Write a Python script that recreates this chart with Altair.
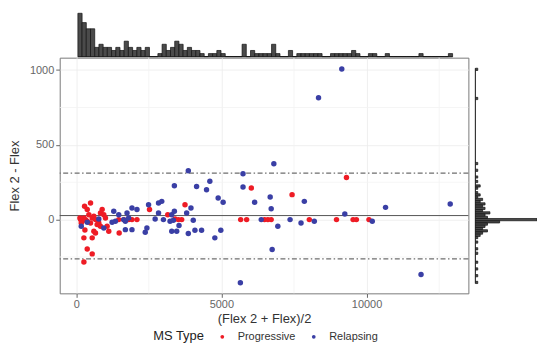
import altair as alt
import pandas as pd

# ---- scatter data ----
prog_x = [288, 494, 380, 437, 151, 208, 265, 322, 380, 551, 608, 665, 836, 894, 951,
          1008, 779, 836, 608, 665, 551, 265, 1122, 1480, 1465, 1636, 1807, 1921, 2093, 380,
          551, 265, 128, 174, 494, 722, 1065, 2525, 3747, 3153, 3404, 3518, 3633, 6031, 5664,
          5870, 7435, 6487, 6601, 6715, 8029, 8965, 9308, 9536, 9650, 10083, 300]
prog_y = [89, 111, 67, 33, 0, -11, 11, 0, -11, 11, 22, 0, 44, 67, 33,
          11, -22, -44, -78, -89, -122, -122, -78, -89, 0, 0, 0, 0, 0, -196,
          -229, -284, 11, -22, -22, -33, -44, 67, 100, 33, 4, 0, 0, 211, 0,
          0, 167, 0, 0, 0, 0, 0, 282, 0, 0, 0, -70]
rel_x = [174, 380, 779, 1293, 1350, 1465, 1636, 1693, 1750, 1807, 1921, 2093, 2492, 2435, 2378,
         1693, 1921, 951, 1236, 2835, 2835, 3861, 5745, 3381, 4603, 4489, 4146, 2947, 4889, 5060,
         5745, 6145, 2719, 3004, 3290, 3381, 3233, 3804, 3952, 4032, 3290, 3461, 3541, 3861, 4089,
         4318, 4775, 4980, 3347, 6807, 6681, 6715, 7857, 6373, 6944, 6749, 7366, 7743, 8200, 9251,
         10197, 10654, 12881, 11876, 9147, 8346, 5654]
rel_y = [-44, -18, 4, 56, -11, 33, 0, -11, 44, 11, 78, 67, 100, -56, -84,
         -67, -67, -56, -18, 111, 44, 327, 307, 227, 256, 200, 222, 122, 144, 116,
         218, 116, 4, 0, 33, 56, -11, 44, 78, -4, -78, -78, -40, -93, -71,
         -71, -122, -71, -4, 373, 151, 73, 122, 0, -44, -200, 0, -22, -11, 38,
         -11, 82, 104, -367, 1007, 815, -422]

# ---- marginal histogram of (Flex 2 + Flex)/2 ----
XBIN0, XBINW = 58, 145
xhist_counts = [14, 11, 9, 9, 3, 4, 3, 3, 2, 3, 2, 5, 3, 2, 3, 2, 3, 0, 0, 1,
                4, 2, 3, 5, 4, 2, 3, 2, 2, 1, 0, 1, 1, 2, 1, 0, 0, 0, 0, 4,
                0, 2, 1, 1, 1, 1, 4, 1, 0, 0, 2, 0, 1, 1, 1, 1, 1, 1, 0, 0,
                1, 1, 1, 1, 1, 2, 1, 0, 0, 1, 1, 0, 0, 1, 0, 0, 0, 0, 0, 0,
                0, 1, 0, 0, 0, 0, 0, 0, 1]

# ---- marginal histogram of Flex 2 - Flex ----
YBINW = 15
ybin_center = [1005, 810, 375, 330, 285, 255, 225, 210, 180, 165, 150, 135, 120, 105, 90, 75,
               60, 45, 30, 15, 0, -15, -30, -45, -60, -75, -90, -105, -120, -150, -195,
               -225, -285, -330, -375, -420]
ybin_count = [1, 1, 1, 1, 1, 1, 2, 1, 1, 2, 1, 3, 2, 4, 3, 4,
              3, 6, 4, 5, 32, 10, 5, 4, 3, 5, 3, 2, 1, 1, 1,
              1, 1, 1, 1, 1]

MEAN, UPPER, LOWER = 27, 311, -262
X_TICKS = [0, 5000, 10000]
Y_TICKS = [0, 500, 1000]
X_MINOR = [2500, 7500, 12500]
Y_MINOR = [-250, 250, 750]

X_DOM = [-568, 13507]
Y_DOM = [-493, 1083]
RED, BLUE = "#EE1C25", "#3A3FA5"
FONT = "Liberation Sans"

W, H = 411, 237
TOP_H, RIGHT_W = 48, 62

pts = pd.DataFrame({
    "avg": prog_x + rel_x,
    "diff": prog_y + rel_y,
    "MS Type": ["Progressive"] * len(prog_x) + ["Relapsing"] * len(rel_x),
})

xs = alt.Scale(domain=X_DOM, nice=False, zero=False)
ys = alt.Scale(domain=Y_DOM, nice=False, zero=False)

x_axis = alt.Axis(values=X_TICKS, title="(Flex 2 + Flex)/2", format="d", grid=True,
                  gridColor="#ebebeb", gridWidth=0.8, domain=False, tickColor="#666",
                  tickSize=4, labelColor="#666666", labelFontSize=11, labelPadding=1,
                  titleFontSize=13, titleFontWeight="normal", titleColor="#333333", titlePadding=3)
y_axis = alt.Axis(values=Y_TICKS, title="Flex 2 - Flex", format="d", grid=True,
                  gridColor="#ebebeb", gridWidth=0.8, domain=False, tickColor="#666",
                  tickSize=4, labelColor="#666666", labelFontSize=11, labelPadding=2,
                  titleFontSize=13, titleFontWeight="normal", titleColor="#333333", titlePadding=8)

minor_x = alt.Chart(pd.DataFrame({"v": X_MINOR})).mark_rule(color="#f3f3f3", strokeWidth=0.8).encode(
    x=alt.X("v:Q", scale=xs, axis=x_axis))
minor_y = alt.Chart(pd.DataFrame({"v": Y_MINOR})).mark_rule(color="#f3f3f3", strokeWidth=0.8).encode(
    y=alt.Y("v:Q", scale=ys, axis=y_axis))

points = alt.Chart(pts).mark_circle(size=30, opacity=1).encode(
    x=alt.X("avg:Q", scale=xs, axis=x_axis),
    y=alt.Y("diff:Q", scale=ys, axis=y_axis),
    color=alt.Color("MS Type:N",
                    scale=alt.Scale(domain=["Progressive", "Relapsing"], range=[RED, BLUE]),
                    legend=alt.Legend(orient="none", legendX=94, legendY=324, direction="horizontal",
                                      titleOrient="left", titleFontSize=13, titleFontWeight="normal",
                                      titleColor="#222222", titlePadding=12, labelFontSize=11,
                                      labelColor="#333333", symbolSize=14, symbolType="circle",
                                      symbolStrokeWidth=0, labelOffset=10, columnPadding=12)),
)

mean_line = alt.Chart(pd.DataFrame({"v": [MEAN]})).mark_rule(color="#555", strokeWidth=1).encode(
    y=alt.Y("v:Q", scale=ys, axis=y_axis))
loa_lines = alt.Chart(pd.DataFrame({"v": [UPPER, LOWER]})).mark_rule(
    color="#6e6e6e", strokeWidth=1.2, strokeDash=[5, 2.5, 1.5, 2.5]).encode(
    y=alt.Y("v:Q", scale=ys, axis=y_axis))

main = alt.layer(minor_x, minor_y, loa_lines, mean_line, points).properties(
    width=W, height=H, view=alt.ViewBackground(stroke="#7a7a7a", strokeWidth=1))

# top histogram
cs_top = alt.Scale(domain=[0, 15.4], nice=False)
xh = pd.DataFrame({"count": xhist_counts})
xh["start"] = XBIN0 + XBINW * xh.index
xh["end"] = xh["start"] + XBINW
xh["z"] = 0
xbase = pd.DataFrame({"lo": [xh["start"].min()], "hi": [xh["end"].max()], "z": [0]})
top_bars = alt.Chart(xh).mark_bar(fill="#4a4a4a", stroke="#111", strokeWidth=0.7).encode(
    x=alt.X("start:Q", scale=xs, axis=None),
    x2="end:Q",
    y=alt.Y("count:Q", scale=cs_top, axis=None),
    y2="z:Q",
)
top_base = alt.Chart(xbase).mark_rule(color="#111", strokeWidth=1).encode(
    x=alt.X("lo:Q", scale=xs, axis=None), x2="hi:Q",
    y=alt.Y("z:Q", scale=cs_top, axis=None))
top = alt.layer(top_base, top_bars).properties(width=W, height=TOP_H)

# right histogram (tallest bar runs off the edge as in the original)
cs_right = alt.Scale(domain=[0, 25.4], nice=False, clamp=True)
yh = pd.DataFrame({"center": ybin_center, "count": ybin_count})
yh["lo"] = yh["center"] - YBINW / 2
yh["hi"] = yh["center"] + YBINW / 2
yh["z"] = 0
ybase = pd.DataFrame({"lo": [yh["lo"].min()], "hi": [yh["hi"].max()], "z": [0]})
right_bars = alt.Chart(yh).mark_bar(fill="#4a4a4a", stroke="#111", strokeWidth=0.7, clip=True).encode(
    y=alt.Y("lo:Q", scale=ys, axis=None),
    y2="hi:Q",
    x=alt.X("count:Q", scale=cs_right, axis=None),
    x2="z:Q",
)
right_base = alt.Chart(ybase).mark_rule(color="#111", strokeWidth=1).encode(
    y=alt.Y("lo:Q", scale=ys, axis=None), y2="hi:Q",
    x=alt.X("z:Q", scale=cs_right, axis=None))
right = alt.layer(right_base, right_bars).properties(width=RIGHT_W, height=H)

chart = alt.vconcat(
    top,
    alt.hconcat(main, right, spacing=4),
    spacing=1, bounds="flush",
).properties(
    padding={"left": 0, "top": 0, "right": 0, "bottom": 0}
).configure(font=FONT).configure_view(stroke=None)

chart.save("out.html", embed_options={"renderer": "svg", "actions": False})
